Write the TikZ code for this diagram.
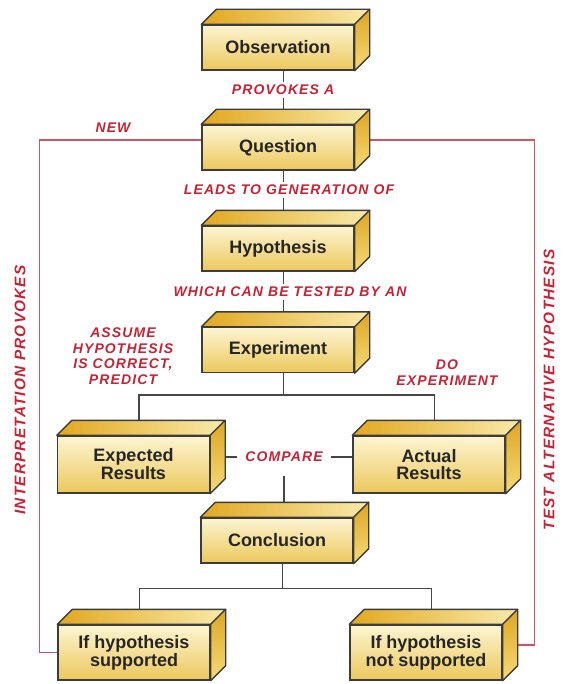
\documentclass[tikz,border=0pt]{standalone}
\usepackage{fontspec}
\setmainfont{Liberation Sans}
\newfontfamily\redfont[LetterSpace=8]{Liberation Sans}
\usetikzlibrary{backgrounds}

\definecolor{boxline}{RGB}{60,60,60}
\definecolor{frontlt}{RGB}{253,245,210}
\definecolor{frontdk}{RGB}{236,200,92}
\definecolor{topdk}{RGB}{226,168,32}
\definecolor{toplt}{RGB}{249,234,170}
\definecolor{sidedk}{RGB}{222,166,36}
\definecolor{sidelt}{RGB}{246,218,118}
\definecolor{redtxt}{RGB}{200,34,52}
\definecolor{redln}{RGB}{204,86,100}
\definecolor{conln}{RGB}{70,70,70}

\tikzstyle{bx1}=[rectangle,draw=boxline,line width=1pt,top color=frontlt,bottom color=frontdk,minimum height=33.75pt,minimum width=114pt,inner sep=0pt,align=center,text=black!85,font=\fontsize{13.5}{12.5}\selectfont\bfseries]
\tikzstyle{bx2}=[bx1,minimum height=42.75pt]
\tikzstyle{bx3}=[bx1,minimum height=41.25pt]
\tikzstyle{topf}=[draw=boxline,line width=1pt,line join=round,left color=topdk,right color=toplt]
\tikzstyle{sidef}=[draw=boxline,line width=1pt,line join=round,top color=sidedk,bottom color=sidelt]
\tikzstyle{lb1}=[fill=white,text=redtxt,inner sep=2pt,align=center,font=\redfont\fontsize{10.5}{11.6}\selectfont\bfseries\itshape]
\tikzstyle{lb2}=[lb1,rotate=90,font=\redfont\fontsize{11.5}{12}\selectfont\bfseries\itshape]
\tikzstyle{cn1}=[draw=conln,line width=1.1pt]
\tikzstyle{rln}=[draw=redln,line width=1pt]

% top and side of a box, depth 15px
\newcommand{\boxfaces}[1]{%
\path[topf] (#1.north west) -- ++(15,-15) -- ([shift={(15,-15)}]#1.north east) -- (#1.north east) -- cycle;
\path[sidef] (#1.north east) -- ++(15,-15) -- ([shift={(15,-15)}]#1.south east) -- (#1.south east) -- cycle;
}

\begin{document}
\begin{tikzpicture}[x=0.75pt,y=-0.75pt]
\useasboundingbox (0,0) rectangle (564,684);

%Main column
\node [bx1] at (278,47.5) (obs) {Observation}; \boxfaces{obs}
\node [bx1] at (278,147.5) (que) {Question}; \boxfaces{que}
\node [bx1] at (278,248.5) (hyp) {Hypothesis}; \boxfaces{hyp}
\node [bx1] at (278,350) (exp) {Experiment}; \boxfaces{exp}

%Results
\node [bx2] at (133.5,464.5) (expres) {Expected\\Results}; \boxfaces{expres}
\node [bx2] at (429,464.5) (actres) {Actual\\Results}; \boxfaces{actres}

\node [bx1] at (277,540.5) (con) {Conclusion}; \boxfaces{con}

%Outcomes
\node [bx3] at (134,652.5) (sup) {If hypothesis\\supported}; \boxfaces{sup}
\node [bx3] at (426,652.5) (nsup) {If hypothesis\\not supported}; \boxfaces{nsup}

%Labels
\node [lb1] at (283,90) (pro) {PROVOKES A};
\node [lb1] at (289,190) (lea) {LEADS TO GENERATION OF};
\node [lb1] at (290,292) (whi) {WHICH CAN BE TESTED BY AN};
\node [lb1] at (123,356) (ass) {ASSUME\\HYPOTHESIS\\IS CORRECT,\\PREDICT};
\node [lb1] at (447,372.5) (doe) {DO\\EXPERIMENT};
\node [lb1,inner xsep=6pt] at (284,457) (cmp) {COMPARE};
\node [lb1] at (113,128) (new) {NEW};
\node [lb2] at (20,390) (itp) {INTERPRETATION PROVOKES};
\node [lb2] at (549,390) (tst) {TEST ALTERNATIVE HYPOTHESIS};

\begin{pgfonlayer}{background}
\draw [cn1] ([xshift=4pt]obs.south) -- ([xshift=4pt]que.north);
\draw [cn1] ([xshift=4pt]que.south) -- ([xshift=4pt]hyp.north);
\draw [cn1] ([xshift=4pt]hyp.south) -- ([xshift=4pt]exp.north);
\draw [cn1] ([xshift=4pt]exp.south) -- ++(0,22) coordinate (sp1) -| ([xshift=4pt]expres.north);
\draw [cn1] (sp1) -| ([xshift=4pt]actres.north);
\draw [cn1] (cmp.west -| expres.east) -- (cmp.west);
\draw [cn1] (cmp.east) -- (cmp.east -| actres.west);
\draw [cn1,shorten <=8pt] (cmp.south) -- (cmp.south |- con.north);
\draw [cn1] ([xshift=4pt]con.south) -- ++(0,25) coordinate (sp2) -| ([xshift=4pt]sup.north);
\draw [cn1] (sp2) -| ([xshift=4pt]nsup.north);

%feedback loops
\draw [rln] (sup.west) -- ++(-18,0) |- ([shift={(0,-7.5)}]que.west);
\draw [rln] ([shift={(15,-7.5)}]nsup.east) -- ++(17,0) |- ([shift={(15,-7.5)}]que.east);
\end{pgfonlayer}

\end{tikzpicture}
\end{document}
